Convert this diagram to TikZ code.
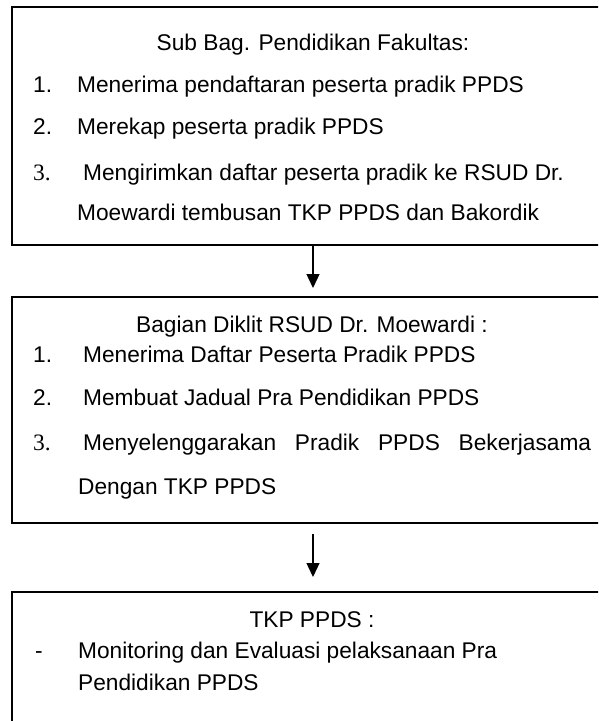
\documentclass[tikz,border=0pt]{standalone}
\usepackage{fontspec}
\setmainfont{Liberation Sans}
\newfontfamily\serifnum{Liberation Serif}
\usetikzlibrary{arrows.meta}
\tikzset{
  boxframe/.style={draw, line width=2pt, rectangle, inner sep=0pt},
  txt/.style={anchor=base west, inner sep=0pt, font=\fontsize{22.7pt}{26pt}\selectfont},
  ttl/.style={anchor=base, inner sep=0pt, font=\fontsize{22.7pt}{26pt}\selectfont},
  num/.style={anchor=base west, inner sep=0pt, font=\fontsize{22.7pt}{26pt}\selectfont},
  snum/.style={anchor=base west, inner sep=0pt, font=\fontsize{23.5pt}{26pt}\serifnum},
  flow/.style={line width=1.3pt, -{Triangle[length=14pt,width=13pt]}}
}
\begin{document}
\begin{tikzpicture}[x=1pt,y=-1pt]
\useasboundingbox (0,0) rectangle (598,721);
\clip (0,0) rectangle (598,721);
\fill[white] (0,0) rectangle (598,721);
% boxes
\node[boxframe, minimum width=602pt, minimum height=238pt] (b1) at (313,126) {};
\node[boxframe, minimum width=602pt, minimum height=226pt] (b2) at (313,410) {};
\node[boxframe, minimum width=602pt, minimum height=160pt] (b3) at (313,672) {};
% box 1 text
\node[ttl] (t1) at (313,50) {Sub Bag. Pendidikan Fakultas:};
\node[num] (n11) at (33,92) {1.};
\node[txt] (l11) at (77,92) {Menerima pendaftaran peserta pradik PPDS};
\node[num] (n12) at (33,134) {2.};
\node[txt] (l12) at (77,134) {Merekap peserta pradik PPDS};
\node[snum] (n13) at (33,180) {3.};
\node[txt] (l13) at (83,180) {Mengirimkan daftar peserta pradik ke RSUD Dr.};
\node[txt] (l14) at (77,220) {Moewardi tembusan TKP PPDS dan Bakordik};
% box 2 text
\node[ttl] (t2) at (312,332) {Bagian Diklit RSUD Dr. Moewardi :};
\node[num] (n21) at (33,362) {1.};
\node[txt] (l21) at (83,362) {Menerima Daftar Peserta Pradik PPDS};
\node[num] (n22) at (33,405) {2.};
\node[txt] (l22) at (83,405) {Membuat Jadual Pra Pendidikan PPDS};
\node[snum] (n23) at (33,450) {3.};
\node[txt] (l23) at (83,450) {\makebox[508pt][s]{Menyelenggarakan Pradik PPDS Bekerjasama}};
\node[txt] (l24) at (78,494) {Dengan TKP PPDS};
% box 3 text
\node[ttl] (t3) at (312,627) {TKP PPDS :};
\node[num] (n31) at (35,658) {-};
\node[txt] (l31) at (78,658) {Monitoring dan Evaluasi pelaksanaan Pra};
\node[txt] (l32) at (78,690) {Pendidikan PPDS};
% arrows
\draw[flow, shorten >=8pt] (b1.south) -- (b2.north);
\draw[flow, shorten <=10pt, shorten >=14pt] (b2.south) -- (b3.north);
\end{tikzpicture}
\end{document}
